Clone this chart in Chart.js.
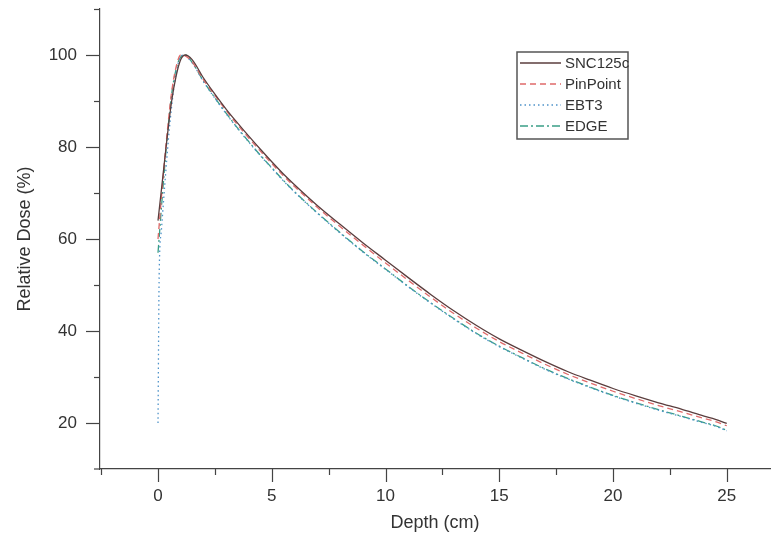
<!DOCTYPE html>
<html>
<head>
<meta charset="utf-8">
<script src="https://cdn.jsdelivr.net/npm/chart.js@4"></script>
<style>
  html, body { margin: 0; padding: 0; background: #fff; }
  #wrap { width: 775px; height: 538px; position: relative; }
</style>
</head>
<body>
<div id="wrap"><canvas id="pddChart"></canvas></div>
<script>
/* Depth dose comparison - SNC125c / PinPoint / EBT3 / EDGE */

// depths (cm) shared by SNC125c, PinPoint and EDGE
const depths = [0, 0.2, 0.4, 0.6, 0.8, 1.0, 1.2, 1.5, 2, 2.5, 3, 3.5, 4, 4.5, 5, 5.5, 6,
    7, 8, 9, 10, 11, 12, 13, 14, 15, 16, 17, 18, 19, 20, 21, 22, 23, 24, 24.5, 25];

const snc125c = [64, 73, 82, 90, 95.5, 99, 100, 99, 95, 91.5, 88.2, 85.2, 82.3, 79.5, 76.8, 74.2, 71.8,
    67.3, 63.2, 59.2, 55.4, 51.6, 47.9, 44.4, 41.2, 38.3, 35.8, 33.4, 31.2, 29.3, 27.5, 25.9, 24.4, 23, 21.5, 20.8, 19.9];

const pinPoint = [60, 72, 83, 92, 97.5, 100, 99.8, 98.5, 94.6, 91.2, 87.9, 84.8, 81.9, 79.1, 76.4, 73.8, 71.4,
    66.9, 62.7, 58.7, 54.8, 51, 47.3, 43.8, 40.6, 37.7, 35.2, 32.8, 30.6, 28.7, 26.9, 25.3, 23.8, 22.4, 21, 20.3, 19.4];

const edge = [57, 70, 82, 91.5, 97, 99.6, 100, 98.4, 94.3, 90.7, 87.3, 84.1, 81.1, 78.2, 75.5, 72.8, 70.3,
    65.7, 61.4, 57.3, 53.5, 49.7, 46.1, 42.7, 39.5, 36.7, 34.2, 31.8, 29.7, 27.8, 26, 24.4, 22.9, 21.5, 20.1, 19.4, 18.4];

// film has its own sampling near the surface
const ebt3Depths = [0, 0.05, 0.15, 0.3, 0.5, 0.7, 0.9, 1.1, 1.5, 2, 2.5, 3, 3.5, 4, 4.5, 5, 5.5, 6,
    7, 8, 9, 10, 11, 12, 13, 14, 15, 16, 17, 18, 19, 20, 21, 22, 23, 24, 24.5, 25];
const ebt3 = [20, 52, 62, 72, 84, 93, 98.5, 100, 98.3, 94.2, 90.6, 87.2, 84, 81, 78.1, 75.4, 72.7, 70.2,
    65.6, 61.3, 57.2, 53.4, 49.6, 46, 42.6, 39.4, 36.6, 34.1, 31.7, 29.6, 27.7, 25.9, 24.3, 22.8, 21.4, 20, 19.3, 18.3];

const xTickLabels = [0, 5, 10, 15, 20, 25];
const yTickLabels = [20, 40, 60, 80, 100];
const xMinorTicks = [-2.5, 2.5, 7.5, 12.5, 17.5, 22.5];
const yMinorTicks = [30, 50, 70, 90, 110];

const seriesNames = ['SNC125c', 'PinPoint', 'EBT3', 'EDGE'];
const seriesColors = ['#5a3d3d', '#e06a6a', '#4f93c9', '#3a9e86'];
const seriesDash = [[], [6, 4], [1.5, 3], [8, 3, 2, 3]];

const TEXT = '#333';
const AXIS = '#444';
const FONT = 'Liberation Sans, Arial, sans-serif';

const toPoints = (xs, ys) => xs.map((x, i) => ({ x: x, y: ys[i] }));

// outward tick marks (major + minor) and the legend box
const tickAndLegendPlugin = {
    id: 'tickAndLegend',
    afterDraw(chart) {
        const c = chart.ctx;
        const xs = chart.scales.x;
        const ys = chart.scales.y;
        const area = chart.chartArea;
        c.save();
        c.strokeStyle = AXIS;
        c.lineWidth = 1.2;
        c.setLineDash([]);

        // x axis overshoots the y axis a little on the left
        c.beginPath();
        c.moveTo(area.left - 6, area.bottom);
        c.lineTo(area.left, area.bottom);
        c.stroke();

        const xTick = (v, len) => {
            const px = Math.round(xs.getPixelForValue(v)) + 0.5;
            c.beginPath();
            c.moveTo(px, area.bottom);
            c.lineTo(px, area.bottom + len);
            c.stroke();
        };
        const yTick = (v, len) => {
            const py = Math.round(ys.getPixelForValue(v)) + 0.5;
            c.beginPath();
            c.moveTo(area.left, py);
            c.lineTo(area.left - len, py);
            c.stroke();
        };
        xTickLabels.forEach(v => xTick(v, 13));
        xMinorTicks.forEach(v => xTick(v, 6));
        yTickLabels.forEach(v => yTick(v, 14));
        yMinorTicks.forEach(v => yTick(v, 6));

        // legend
        const bx = 517, by = 52, bw = 111, bh = 87;
        c.strokeStyle = '#555';
        c.lineWidth = 1.5;
        c.strokeRect(bx, by, bw, bh);
        c.font = '15px ' + FONT;
        c.fillStyle = TEXT;
        c.textBaseline = 'middle';
        seriesNames.forEach((name, i) => {
            const ly = by + 11 + i * 21;
            c.strokeStyle = seriesColors[i];
            c.lineWidth = 1.3;
            c.setLineDash(seriesDash[i]);
            c.beginPath();
            c.moveTo(bx + 3, ly);
            c.lineTo(bx + 44, ly);
            c.stroke();
            c.setLineDash([]);
            c.fillText(name, bx + 48, ly + 1);
        });
        c.restore();
    }
};

const datasets = [
    toPoints(depths, snc125c),
    toPoints(depths, pinPoint),
    toPoints(ebt3Depths, ebt3),
    toPoints(depths, edge)
].map((pts, i) => ({
    label: seriesNames[i],
    data: pts,
    borderColor: seriesColors[i],
    borderWidth: 1.3,
    borderDash: seriesDash[i],
    pointRadius: 0,
    fill: false,
    tension: 0,
    cubicInterpolationMode: 'monotone'
}));

new Chart(document.getElementById('pddChart'), {
    type: 'line',
    data: { datasets: datasets },
    plugins: [tickAndLegendPlugin],
    options: {
        responsive: true,
        maintainAspectRatio: false,
        animation: false,
        layout: { padding: { top: 9, right: 5, left: 0, bottom: 0 } },
        plugins: {
            legend: { display: false },
            tooltip: { enabled: false }
        },
        scales: {
            x: {
                type: 'linear',
                min: -2.55,
                max: 26.9,
                afterFit: (scale) => {
                    scale.height = 69;
                    scale.paddingLeft = 0;
                    scale.paddingRight = 0;
                },
                afterBuildTicks: (scale) => { scale.ticks = xTickLabels.map(v => ({ value: v })); },
                grid: { display: false, drawTicks: false },
                border: { display: true, color: AXIS, width: 1.2 },
                ticks: {
                    padding: 17,
                    color: TEXT,
                    font: { family: FONT, size: 17 },
                    maxRotation: 0
                },
                title: {
                    display: true,
                    text: 'Depth (cm)',
                    color: TEXT,
                    font: { family: FONT, size: 18 },
                    padding: { top: 0, bottom: 4 }
                }
            },
            y: {
                type: 'linear',
                min: 10,
                max: 110,
                afterFit: (scale) => {
                    scale.width = 100;
                    scale.paddingTop = 0;
                    scale.paddingBottom = 0;
                },
                afterBuildTicks: (scale) => { scale.ticks = yTickLabels.map(v => ({ value: v })); },
                grid: { display: false, drawTicks: false },
                border: { display: true, color: AXIS, width: 1.2 },
                ticks: {
                    padding: 23,
                    color: TEXT,
                    font: { family: FONT, size: 17 }
                },
                title: {
                    display: true,
                    text: 'Relative Dose (%)',
                    color: TEXT,
                    font: { family: FONT, size: 18 },
                    padding: { top: 14, bottom: 0 }
                }
            }
        }
    }
});
</script>
</body>
</html>
